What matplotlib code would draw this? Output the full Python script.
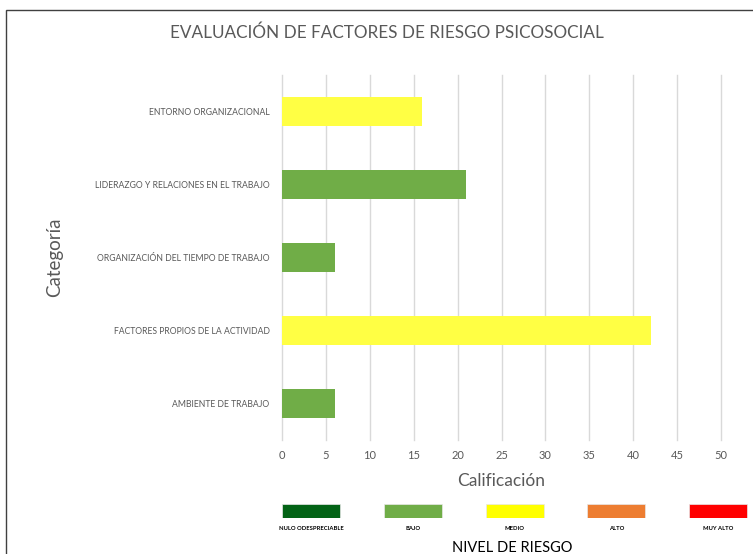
import matplotlib.pyplot as plt
from matplotlib.patches import Rectangle

# chart data
categorias = [
    "ENTORNO ORGANIZACIONAL",
    "LIDERAZGO Y RELACIONES EN EL TRABAJO",
    "ORGANIZACIÓN DEL TIEMPO DE TRABAJO",
    "FACTORES PROPIOS DE LA ACTIVIDAD",
    "AMBIENTE DE TRABAJO",
]
calificacion = [16, 21, 6, 42, 6]
nivel_barra = ["MEDIO", "BAJO", "BAJO", "MEDIO", "BAJO"]

niveles = ["NULO ODESPRECIABLE", "BAJO", "MEDIO", "ALTO", "MUY ALTO"]
colores_nivel = ["#036316", "#70AD47", "#FFFF00", "#ED7D31", "#FF0000"]
colores_barra = {"BAJO": "#70AD47", "MEDIO": "#FFFF44"}

xticks = list(range(0, 55, 5))

FONT = ["Lato", "DejaVu Sans"]
plt.rcParams["font.family"] = FONT

fig = plt.figure(figsize=(7.53, 5.54), dpi=100)
W, H = 753, 554

# outer chart frame (cut off at right and bottom like the source)
fig.patches.append(Rectangle((6 / W, -0.2), 1.2, 1.2 - 10 / H,
                             transform=fig.transFigure, fill=False,
                             edgecolor="#404040", lw=1.0))

ax = fig.add_axes([282 / W, 1 - 440 / H, 439 / W, 365 / H])
ypos = list(range(len(categorias)))
ax.barh(ypos, calificacion, height=0.4,
        color=[colores_barra[n] for n in nivel_barra], zorder=3)
ax.set_ylim(len(categorias) - 0.5, -0.5)
ax.set_yticks(ypos)
ax.set_yticklabels(categorias, fontsize=6.2, color="#595959")
ax.set_xlim(0, 50)
ax.set_xticks(xticks)
ax.set_xticklabels([str(v) for v in xticks], fontsize=8, color="#595959")
ax.tick_params(axis="x", length=0, pad=7)
ax.tick_params(axis="y", length=0, pad=9)
ax.grid(axis="x", color="#D9D9D9", lw=1, zorder=0)
for gl in ax.get_xgridlines():
    gl.set_clip_on(False)
for s in ax.spines.values():
    s.set_visible(False)
ax.set_xlabel("Calificación", fontsize=12.5, color="#595959", labelpad=9)
ax.set_ylabel("Categoría", fontsize=13.5, color="#595959")
ax.yaxis.set_label_coords((63 - 282) / 439, 0.5)

fig.text(387 / W, 1 - 33 / H, "EVALUACIÓN DE FACTORES DE RIESGO PSICOSOCIAL",
         ha="center", va="center", fontsize=12.3, color="#595959")

# risk level key
step = 101.75
lax = fig.add_axes([(311 - step / 2) / W, 1 - 518 / H, 5 * step / W, 14 / H])
lpos = list(range(len(niveles)))
lax.bar(lpos, [1] * len(niveles), width=58 / step, color=colores_nivel,
        edgecolor="#E8E8E8", lw=0.5)
lax.set_xlim(-0.5, len(niveles) - 0.5)
lax.set_ylim(0, 1)
lax.set_xticks(lpos)
lax.set_xticklabels(niveles, fontsize=4.2, fontweight="bold", color="#000000")
lax.tick_params(length=0, pad=6)
lax.set_yticks([])
for s in lax.spines.values():
    s.set_visible(False)

fig.text(512 / W, 1 - 541 / H, "NIVEL DE RIESGO", ha="center", va="top",
         fontsize=10.5, color="#000000")

fig.savefig("out.png", dpi=100)
